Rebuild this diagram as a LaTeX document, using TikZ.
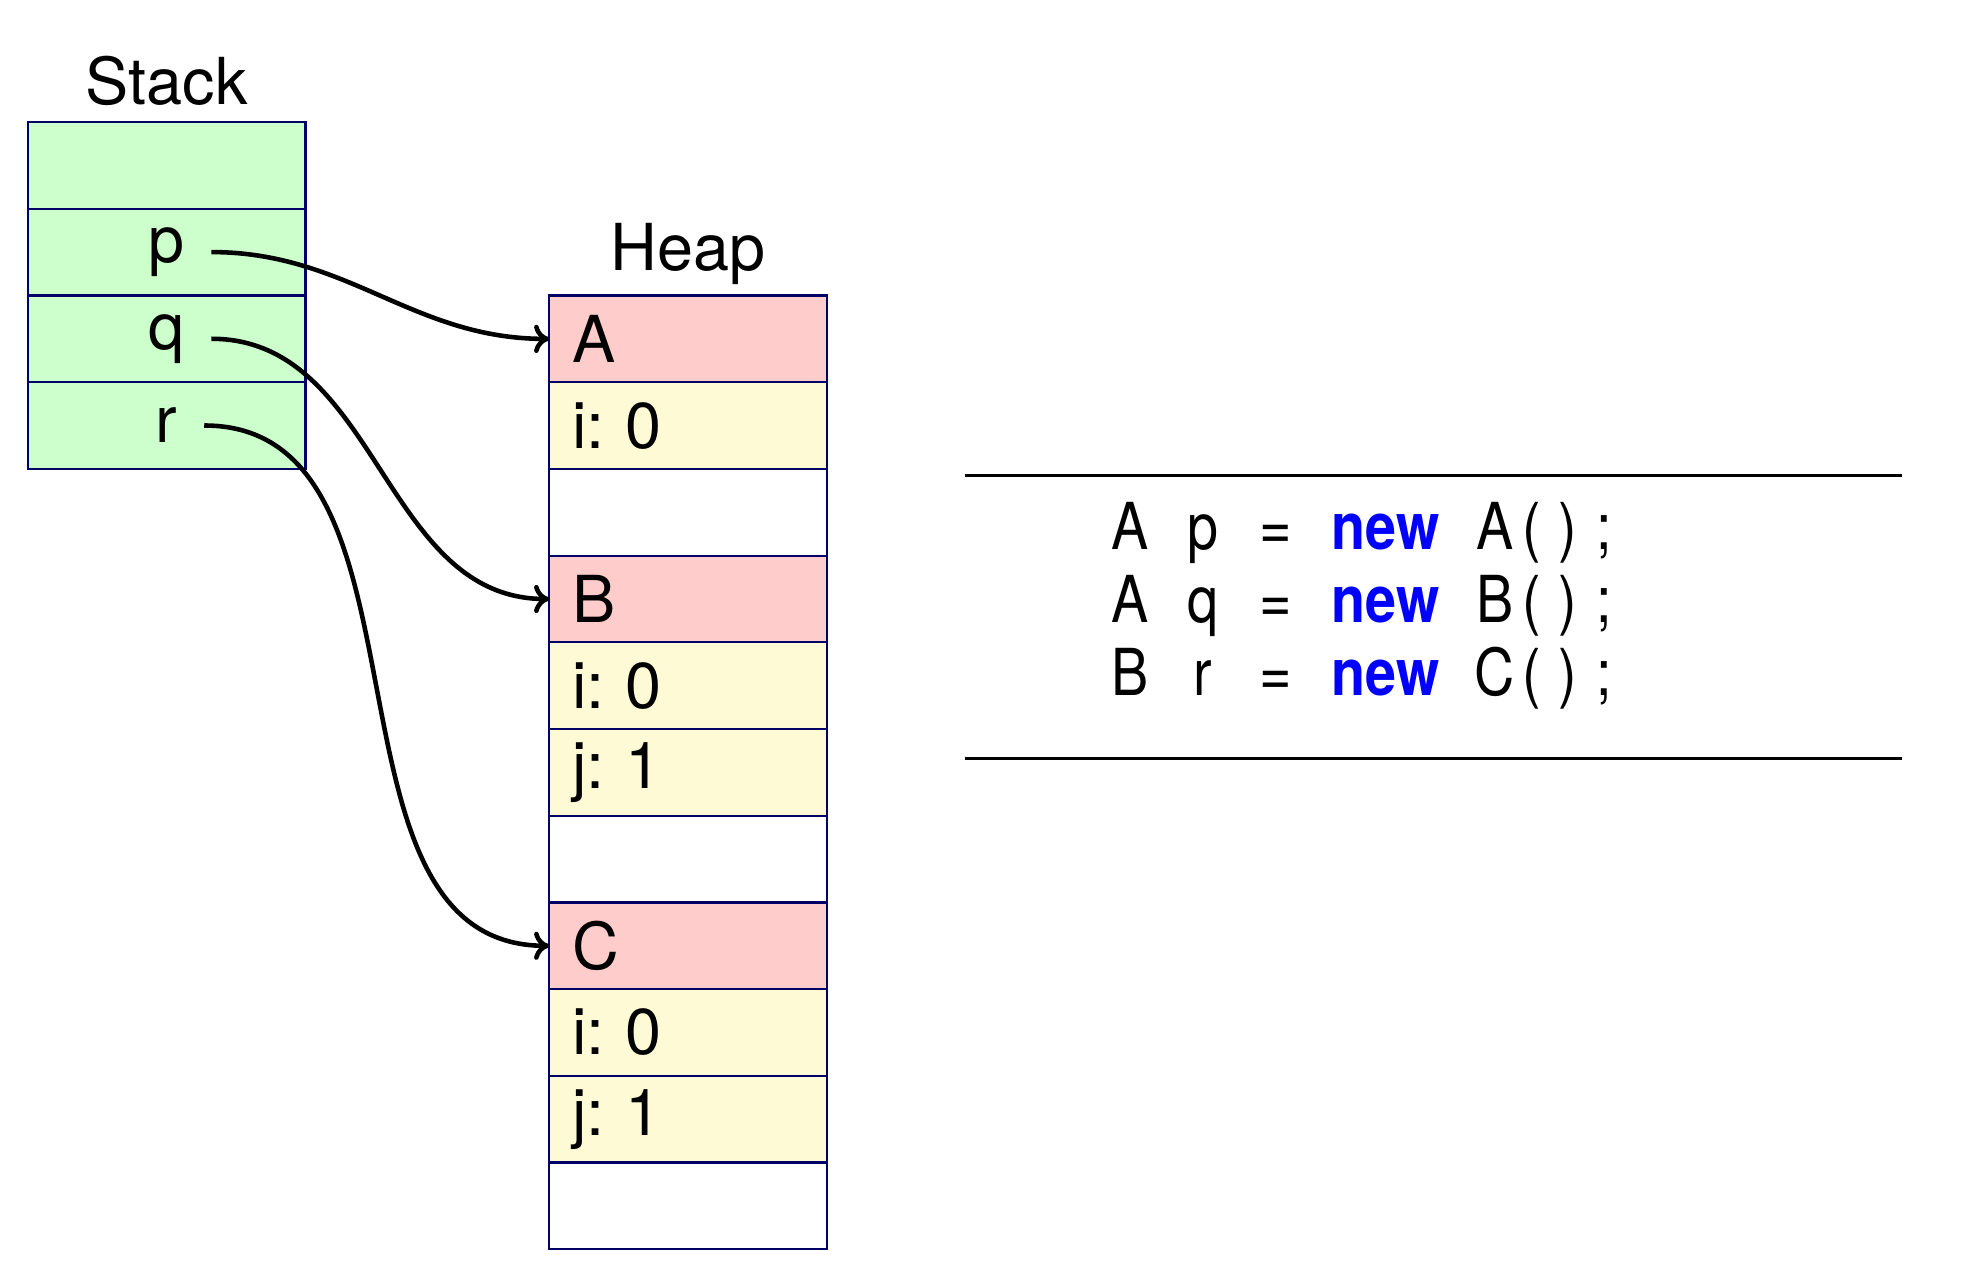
\documentclass[tikz,border=0pt]{standalone}
\usepackage{fontspec}
\setmainfont{TeX Gyre Heros}
\newfontfamily\codefont[FakeStretch=0.86]{TeX Gyre Heros}
\usepackage{xcolor}
\usetikzlibrary{positioning, arrows.meta}
\definecolor{stackgreen}{RGB}{204,255,204}
\definecolor{objred}{RGB}{255,204,204}
\definecolor{fieldyellow}{RGB}{255,250,214}
\definecolor{cellborder}{RGB}{0,0,102}
\definecolor{kwblue}{RGB}{0,0,255}
\newlength{\codecol}
\setlength{\codecol}{0.3366cm}
\newcommand{\cc}[1]{\makebox[\codecol]{#1}}
\newcommand{\kw}[1]{\makebox[3\codecol]{\bfseries\color{kwblue}#1}}
\tikzset{>={Computer Modern Rightarrow[length=1.4mm, width=2.6mm]},
    cell/.style={draw=cellborder, line width=0.6pt, minimum width=2.56cm, minimum height=0.8cm, inner sep=0pt, outer sep=0pt},
    stackcell/.style={cell, fill=stackgreen},
    objcell/.style={cell, fill=objred, text width=2.14cm, align=left},
    fieldcell/.style={cell, fill=fieldyellow, text width=2.14cm, align=left},
    freecell/.style={cell, fill=white},
    varlbl/.style={inner xsep=0.24cm},
    codeline/.style={anchor=base west, inner sep=0pt, font=\codefont\fontsize{17}{20}\selectfont},
    ref/.style={->, line width=1.2pt}}

\begin{document}
\begin{tikzpicture}[font=\fontsize{17}{20}\selectfont\frenchspacing]
    \useasboundingbox (0,0) rectangle (18.196,-11.719);
    % stack
    \node[anchor=base] at (1.538,-0.963) (stacklbl) {Stack};
    \node[stackcell] at (1.538,-1.526) (sTop) {};
    \node[stackcell, below=0pt of sTop] (sp) {};
    \node[stackcell, below=0pt of sp] (sq) {};
    \node[stackcell, below=0pt of sq] (sr) {};
    \node[varlbl] at (sp) (p) {p};
    \node[varlbl] at (sq) (q) {q};
    \node[varlbl] at (sr) (r) {r};
    % heap
    \node[anchor=base] at (6.348,-2.495) (heaplbl) {Heap};
    \node[objcell] at (6.348,-3.127) (hA) {A};
    \node[fieldcell, below=0pt of hA] (hAi) {i: 0};
    \node[freecell, below=0pt of hAi] (hAfree) {};
    \node[objcell, below=0pt of hAfree] (hB) {B};
    \node[fieldcell, below=0pt of hB] (hBi) {i: 0};
    \node[fieldcell, below=0pt of hBi] (hBj) {j: 1};
    \node[freecell, below=0pt of hBj] (hBfree) {};
    \node[objcell, below=0pt of hBfree] (hC) {C};
    \node[fieldcell, below=0pt of hC] (hCi) {i: 0};
    \node[fieldcell, below=0pt of hCi] (hCj) {j: 1};
    \node[freecell, below=0pt of hCj] (hCfree) {};
    % references
    \draw[ref] (p.east) to[out=0, in=180] (hA.west);
    \draw[ref] (q.east) to[out=0, in=180] (hB.west);
    \draw[ref] (r.east) to[out=0, in=180] (hC.west);
    % code
    \draw[line width=0.6pt] (8.901,-4.387) -- (17.547,-4.387);
    \node[codeline] at (10.253,-5.071) (line1) {\cc{A}\cc{}\cc{p}\cc{}\cc{=}\cc{}\kw{new}\cc{}\cc{A}\cc{(}\cc{)}\cc{;}};
    \node[codeline] at (10.253,-5.744) (line2) {\cc{A}\cc{}\cc{q}\cc{}\cc{=}\cc{}\kw{new}\cc{}\cc{B}\cc{(}\cc{)}\cc{;}};
    \node[codeline] at (10.253,-6.418) (line3) {\cc{B}\cc{}\cc{r}\cc{}\cc{=}\cc{}\kw{new}\cc{}\cc{C}\cc{(}\cc{)}\cc{;}};
    \draw[line width=0.6pt] (8.901,-6.998) -- (17.547,-6.998);
\end{tikzpicture}
\end{document}
